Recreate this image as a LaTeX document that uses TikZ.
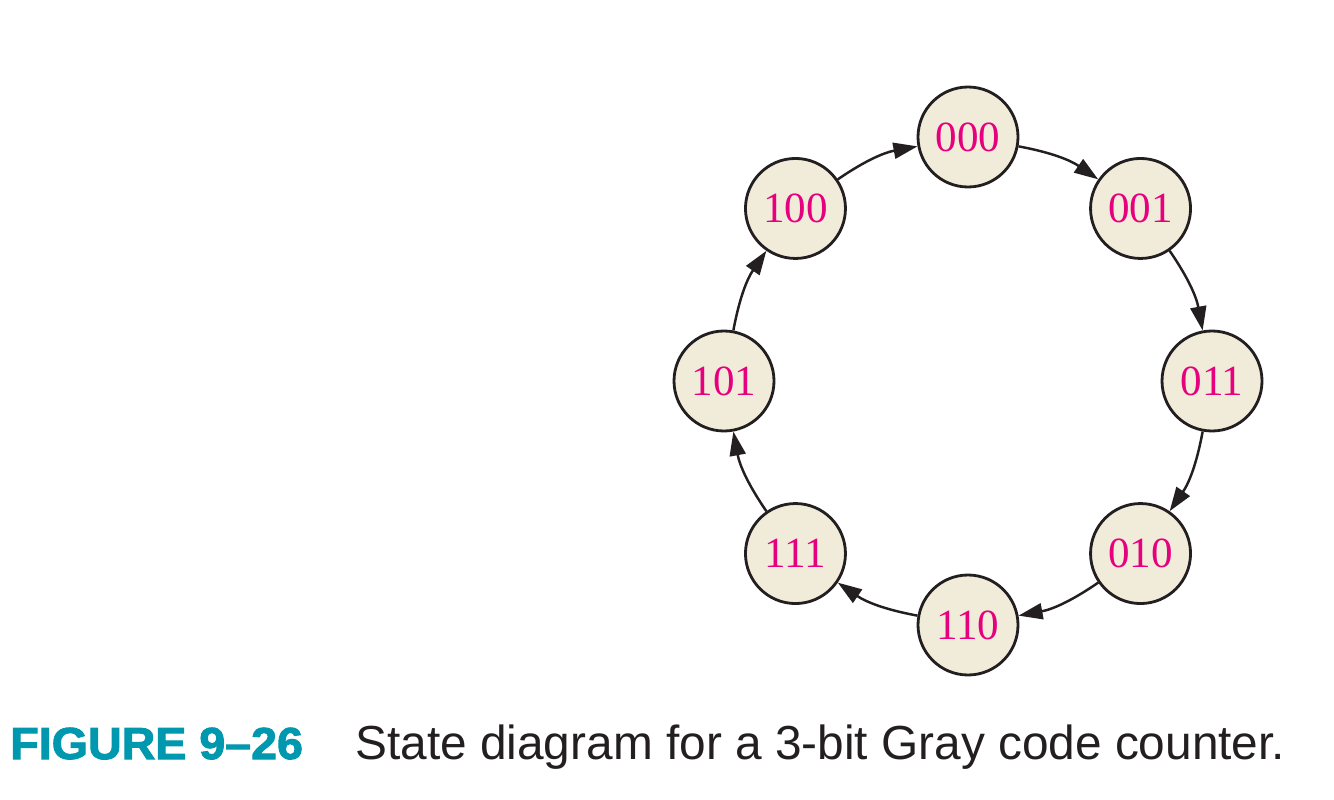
\documentclass[tikz,border=0pt]{standalone}
\usepackage{fontspec}
\setmainfont{Liberation Serif}
\newfontfamily\capfont{Liberation Sans}
\newfontfamily\capblack[BoldFeatures={FakeBold=2.2,FakeStretch=1.04}]{Liberation Sans}
\usepackage{xcolor}
\usetikzlibrary{calc,arrows.meta}
\definecolor{ink}{HTML}{231F20}
\definecolor{cream}{HTML}{F1ECDA}
\definecolor{magenta}{HTML}{E6007E}
\definecolor{teal}{HTML}{0098AE}
\tikzset{
  state/.style={circle, draw=ink, line width=1.6pt, fill=cream, minimum size=2cm,
    inner sep=0pt, text=magenta, font=\fontsize{24.5}{28}\selectfont},
  trans/.style={draw=ink, line width=1.4pt, -{Triangle[length=0.48cm,width=0.32cm]}},
  capnum/.style={text=teal, font=\capblack\bfseries\fontsize{25.5}{28}\selectfont, inner sep=0pt},
  captxt/.style={text=ink, font=\capfont\fontsize{27.2}{30}\selectfont, inner sep=0pt},
}
\begin{document}
\begin{tikzpicture}
  \useasboundingbox (0,0) rectangle (26.68,-16);
  \pgfmathsetmacro{\R}{4.88}
  \coordinate (C) at (19.36,-7.62);

  % states on a ring, Gray code order clockwise
  \node[state] (s000) at ($(C)+(90:\R)$) {000};
  \node[state] (s001) at ($(C)+(45:\R)$) {001};
  \node[state] (s011) at ($(C)+(0:\R)$) {011};
  \node[state] (s010) at ($(C)+(-45:\R)$) {010};
  \node[state] (s110) at ($(C)+(-90:\R)$) {110};
  \node[state] (s111) at ($(C)+(-135:\R)$) {111};
  \node[state] (s101) at ($(C)+(180:\R)$) {101};
  \node[state] (s100) at ($(C)+(135:\R)$) {100};

  \draw[trans] (s000) to[bend left=12] (s001);
  \draw[trans] (s001) to[bend left=12] (s011);
  \draw[trans] (s011) to[bend left=12] (s010);
  \draw[trans] (s010) to[bend left=12] (s110);
  \draw[trans] (s110) to[bend left=12] (s111);
  \draw[trans] (s111) to[bend left=12] (s101);
  \draw[trans] (s101) to[bend left=12] (s100);
  \draw[trans] (s100) to[bend left=12] (s000);

  \node[capnum, anchor=base west] (fig) at (0.2,-15.18) {FIGURE 9–26};
  \node[captxt, anchor=base west] (cap) at (7.1,-15.18) {State diagram for a 3-bit Gray code counter.};
\end{tikzpicture}
\end{document}
